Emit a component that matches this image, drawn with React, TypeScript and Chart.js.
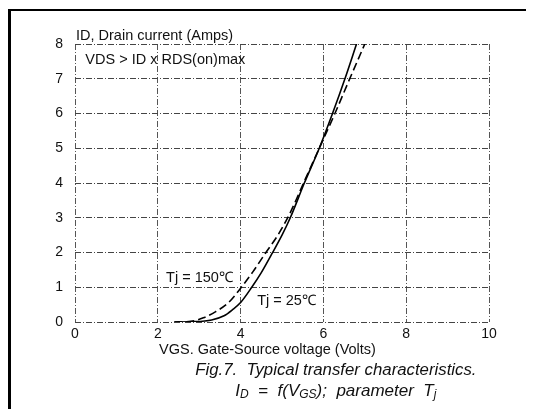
import React, { useEffect, useRef } from "react";
import { Chart, registerables } from "chart.js";

Chart.register(...registerables);

// Gate-source voltage (V) and drain current (A), Tj = 25 °C (solid)
const vgs25 = [2.4, 2.9, 3.3, 3.6, 3.8, 4.0, 4.27, 4.5, 4.75, 5.0, 5.2, 5.54, 5.9, 6.22, 6.52, 6.8];
const id25 = [0, 0.01, 0.06, 0.18, 0.35, 0.56, 1.0, 1.42, 1.95, 2.5, 3.0, 4.0, 5.0, 6.0, 7.0, 8.0];

// Tj = 150 °C (dashed)
const vgs150 = [2.4, 2.8, 3.1, 3.4, 3.7, 4.0, 4.3, 4.6, 4.9, 5.18, 5.54, 5.9, 6.26, 6.6, 7.0];
const id150 = [0, 0.02, 0.12, 0.3, 0.55, 0.97, 1.45, 1.98, 2.5, 3.1, 4.05, 5.0, 5.95, 6.9, 8.0];

const xTickValues = [0, 2, 4, 6, 8, 10];
const yTickValues = [0, 1, 2, 3, 4, 5, 6, 7, 8];

const FONT = "'Liberation Sans', Arial, Helvetica, sans-serif";

const toPoints = (xs: number[], ys: number[]) => xs.map((x, i) => ({ x, y: ys[i] }));

const notesPlugin = {
  id: "notes",
  afterDraw(chart: any) {
    const ctx: CanvasRenderingContext2D = chart.ctx;
    const xs = chart.scales.x;
    const ys = chart.scales.y;
    const W = chart.width;
    const H = chart.height;
    ctx.save();

    // page frame
    ctx.fillStyle = "#000";
    ctx.fillRect(0, 1, W, 2);
    ctx.fillRect(0, 1, 3, H);

    ctx.fillStyle = "#111";
    ctx.textBaseline = "middle";
    ctx.textAlign = "left";
    ctx.font = `14.5px ${FONT}`;
    ctx.fillText("ID, Drain current (Amps)", chart.chartArea.left + 1, chart.chartArea.top - 8);
    ctx.fillText("VDS > ID x RDS(on)max", xs.getPixelForValue(0.25), ys.getPixelForValue(7.55));
    ctx.fillText("Tj = 150\u2103", xs.getPixelForValue(2.2), ys.getPixelForValue(1.27));
    ctx.fillText("Tj = 25\u2103", xs.getPixelForValue(4.4), ys.getPixelForValue(0.6));

    ctx.textAlign = "center";
    ctx.fillText("VGS. Gate-Source voltage (Volts)", xs.getPixelForValue(4.65), chart.chartArea.bottom + 28);

    // caption
    const cx = xs.getPixelForValue(6.3);
    ctx.font = `italic 16.8px ${FONT}`;
    ctx.fillText("Fig.7.  Typical transfer characteristics.", cx, chart.chartArea.bottom + 48);

    const y2 = chart.chartArea.bottom + 69;
    const big = `italic 17px ${FONT}`;
    const small = `italic 12px ${FONT}`;
    const parts: [string, string, number][] = [
      ["I", big, 0],
      ["D", small, 4],
      ["  =  f(V", big, 0],
      ["GS", small, 4],
      [");  parameter  T", big, 0],
      ["j", small, 4],
    ];
    let total = 0;
    for (const [t, f] of parts) {
      ctx.font = f;
      total += ctx.measureText(t).width;
    }
    let px = cx - total / 2;
    ctx.textAlign = "left";
    for (const [t, f, dy] of parts) {
      ctx.font = f;
      ctx.fillText(t, px, y2 + dy);
      px += ctx.measureText(t).width;
    }
    ctx.restore();
  },
};

export default function App() {
  const ref = useRef<HTMLCanvasElement | null>(null);

  useEffect(() => {
    if (!ref.current) return;
    const gridDash = [6, 2, 1, 2];
    const chart = new Chart(ref.current, {
      type: "line",
      data: {
        datasets: [
          {
            label: "Tj = 25\u2103",
            data: toPoints(vgs25, id25),
            borderColor: "#000",
            borderWidth: 1.6,
            pointRadius: 0,
            cubicInterpolationMode: "monotone",
          },
          {
            label: "Tj = 150\u2103",
            data: toPoints(vgs150, id150),
            borderColor: "#000",
            borderWidth: 1.6,
            borderDash: [8, 4],
            pointRadius: 0,
            cubicInterpolationMode: "monotone",
          },
        ],
      },
      options: {
        animation: false,
        responsive: false,
        devicePixelRatio: 1,
        layout: { padding: { left: 0, top: 36, right: 45, bottom: 57 } },
        plugins: { legend: { display: false }, tooltip: { enabled: false } },
        scales: {
          x: {
            type: "linear",
            min: 0,
            max: 10,
            afterBuildTicks: (s: any) => {
              s.ticks = xTickValues.map((v) => ({ value: v }));
            },
            afterFit: (s: any) => {
              s.height = 30;
            },
            ticks: { color: "#111", font: { family: FONT, size: 14 }, padding: 4 },
            grid: { color: "#555", lineWidth: 1, drawTicks: false },
            border: { display: false, dash: gridDash },
          },
          y: {
            type: "linear",
            min: 0,
            max: 8,
            afterBuildTicks: (s: any) => {
              s.ticks = yTickValues.map((v) => ({ value: v }));
            },
            afterFit: (s: any) => {
              s.width = 67;
            },
            ticks: { color: "#111", font: { family: FONT, size: 14 }, padding: 12 },
            grid: { color: "#444", lineWidth: 1, drawTicks: false },
            border: { display: false, dash: gridDash },
          },
        },
      },
      plugins: [notesPlugin],
    } as any);
    return () => chart.destroy();
  }, []);

  return (
    <div style={{ position: "relative", width: 526, height: 401, background: "#fff" }}>
      <canvas ref={ref} width={526} height={401} style={{ display: "block" }} />
    </div>
  );
}
